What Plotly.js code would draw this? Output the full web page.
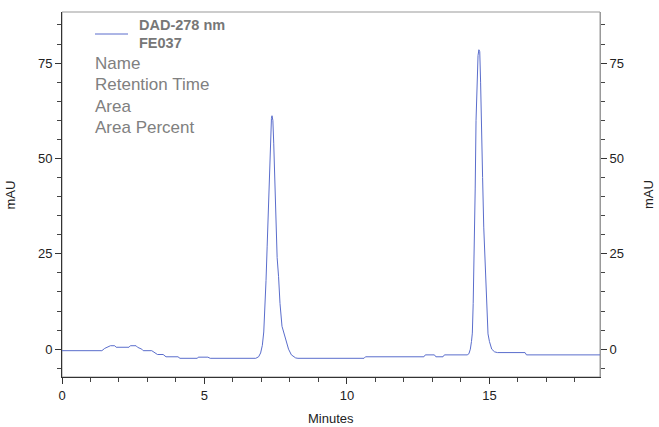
<!DOCTYPE html>
<html>
<head>
<meta charset="utf-8">
<script src="https://cdn.plot.ly/plotly-3.0.1.min.js"></script>
<style>html,body{margin:0;padding:0;background:#fff;}#chart{width:659px;height:427px;}</style>
</head>
<body>
<div id="chart"></div>
<script>
// Retention time (minutes)
const minutes = [
  0.00, 1.40, 1.50, 1.65, 1.70, 1.85, 1.90, 2.35, 2.40, 2.60, 2.65, 2.80, 2.85, 3.15, 3.25, 3.35, 3.55, 3.65, 4.07, 4.14, 4.75, 4.78, 5.12, 5.20,
  6.80, 6.90, 6.97, 7.03, 7.08, 7.12, 7.16, 7.20, 7.24, 7.28, 7.32, 7.35, 7.37, 7.40, 7.43, 7.47, 7.51, 7.55, 7.60, 7.65, 7.72, 7.80, 7.88, 7.95, 8.05, 8.20, 8.28,
  10.60, 10.65, 12.70, 12.75, 13.07, 13.12, 13.37, 13.42,
  14.22, 14.28, 14.33, 14.37, 14.40, 14.43, 14.46, 14.48, 14.50, 14.53, 14.56, 14.60, 14.63, 14.66, 14.69, 14.72, 14.76, 14.80, 14.83, 14.87, 14.91, 14.95, 15.00, 15.08, 15.18, 15.28,
  16.25, 16.30, 18.88
];
// Absorbance (mAU)
const mAU = [
  -0.4, -0.4, 0.2, 0.6, 0.9, 0.9, 0.5, 0.5, 0.9, 0.9, 0.5, 0.0, -0.4, -0.4, -1.0, -1.4, -1.4, -2.0, -2.0, -2.4, -2.4, -2.1, -2.1, -2.4,
  -2.4, -2.0, -1.0, 1.0, 4.5, 10, 18, 27, 37, 48, 57, 60.5, 61.2, 60, 54, 44, 33, 24, 19, 12, 6, 4, 1.5, 0, -1.5, -2.3, -2.4,
  -2.4, -2.0, -2.0, -1.5, -1.5, -2.0, -2.0, -1.5,
  -1.5, -1.2, 0, 2, 4.2, 12, 22, 30, 42, 60, 70, 77, 78.5, 78, 70, 62, 45, 32, 26, 15, 7, 4, 2, 0, -0.7, -0.9,
  -0.9, -1.5, -1.5
];
const xTickVals = [0, 5, 10, 15];
const yTickVals = [0, 25, 50, 75];
const legendLines = ["Name", "Retention Time", "Area", "Area Percent"];

const lineColor = "#5a6dcc";
const fontFam = "Liberation Sans, Arial, sans-serif";
const tickFont = {family: fontFam, size: 13, color: "#222"};

const traces = [
  {x: minutes, y: mAU, type: "scatter", mode: "lines", line: {color: lineColor, width: 1}, xaxis: "x", yaxis: "y", hoverinfo: "skip"},
  {x: minutes, y: mAU, type: "scatter", mode: "lines", line: {color: "rgba(0,0,0,0)", width: 1}, xaxis: "x", yaxis: "y2", hoverinfo: "skip"}
];

const yRange = [-7.3, 88.4];
const axY = {
  range: yRange, tickvals: yTickVals, ticktext: yTickVals.map(String),
  ticks: "outside", ticklen: 6, tickcolor: "#333", tickwidth: 1,
  minor: {dtick: 5, tick0: 0, ticks: "outside", ticklen: 4, tickcolor: "#444", showgrid: false},
  showgrid: false, zeroline: false, showline: true, linewidth: 1,
  tickfont: tickFont, fixedrange: true
};

const annotations = [
  {xref: "paper", yref: "paper", x: -62/538, y: (377-195)/365, text: "mAU", showarrow: false, textangle: -90, font: {family: fontFam, size: 13, color: "#222"}, xanchor: "left", yanchor: "middle"},
  {xref: "paper", yref: "paper", x: (648-62)/538, y: (377-195)/365, text: "mAU", showarrow: false, textangle: -90, font: {family: fontFam, size: 13, color: "#222"}, xanchor: "center", yanchor: "middle"},
  {xref: "paper", yref: "paper", x: (331-62)/538, y: (377-418)/365, text: "Minutes", showarrow: false, font: {family: fontFam, size: 13, color: "#222"}, xanchor: "center", yanchor: "middle"},
  {xref: "paper", yref: "paper", x: (137-62)/538, y: (377-25)/365, text: "<b>DAD-278 nm</b>", showarrow: false, font: {family: fontFam, size: 14.5, color: "#777"}, xanchor: "left", yanchor: "middle"},
  {xref: "paper", yref: "paper", x: (137-62)/538, y: (377-42.5)/365, text: "<b>FE037</b>", showarrow: false, font: {family: fontFam, size: 14.5, color: "#777"}, xanchor: "left", yanchor: "middle"}
];
const legendY = [63.5, 85, 106, 127];
legendLines.forEach((t, i) => {
  annotations.push({xref: "paper", yref: "paper", x: (93-62)/538, y: (377-legendY[i])/365, text: t, showarrow: false,
    font: {family: fontFam, size: 17, color: "#808080"}, xanchor: "left", yanchor: "middle"});
});

const layout = {
  width: 659, height: 427,
  margin: {l: 62, r: 59, t: 12, b: 50, pad: 0},
  paper_bgcolor: "#fff", plot_bgcolor: "#fff",
  showlegend: false,
  xaxis: {
    range: [0, 18.88], tickvals: xTickVals, ticktext: xTickVals.map(String),
    ticks: "outside", ticklen: 6, tickcolor: "#333",
    minor: {dtick: 1, tick0: 0, ticks: "outside", ticklen: 4, tickcolor: "#444", showgrid: false},
    showgrid: false, zeroline: false, showline: true, linecolor: "#333", linewidth: 1,
    tickfont: tickFont, fixedrange: true
  },
  yaxis: Object.assign({}, axY, {side: "left", linecolor: "#333"}),
  yaxis2: Object.assign({}, axY, {side: "right", overlaying: "y", linecolor: "#999"}),
  shapes: [
    {type: "rect", xref: "paper", yref: "paper", x0: 0, x1: 1, y0: 0, y1: 1, line: {color: "#999", width: 1}, layer: "below"},
    {type: "line", xref: "paper", yref: "paper", x0: (95-62)/538, x1: (128-62)/538, y0: (377-34)/365, y1: (377-34)/365, line: {color: lineColor, width: 1}}
  ],
  annotations: annotations
};

Plotly.newPlot("chart", traces, layout, {displayModeBar: false, staticPlot: true});
</script>
</body>
</html>
